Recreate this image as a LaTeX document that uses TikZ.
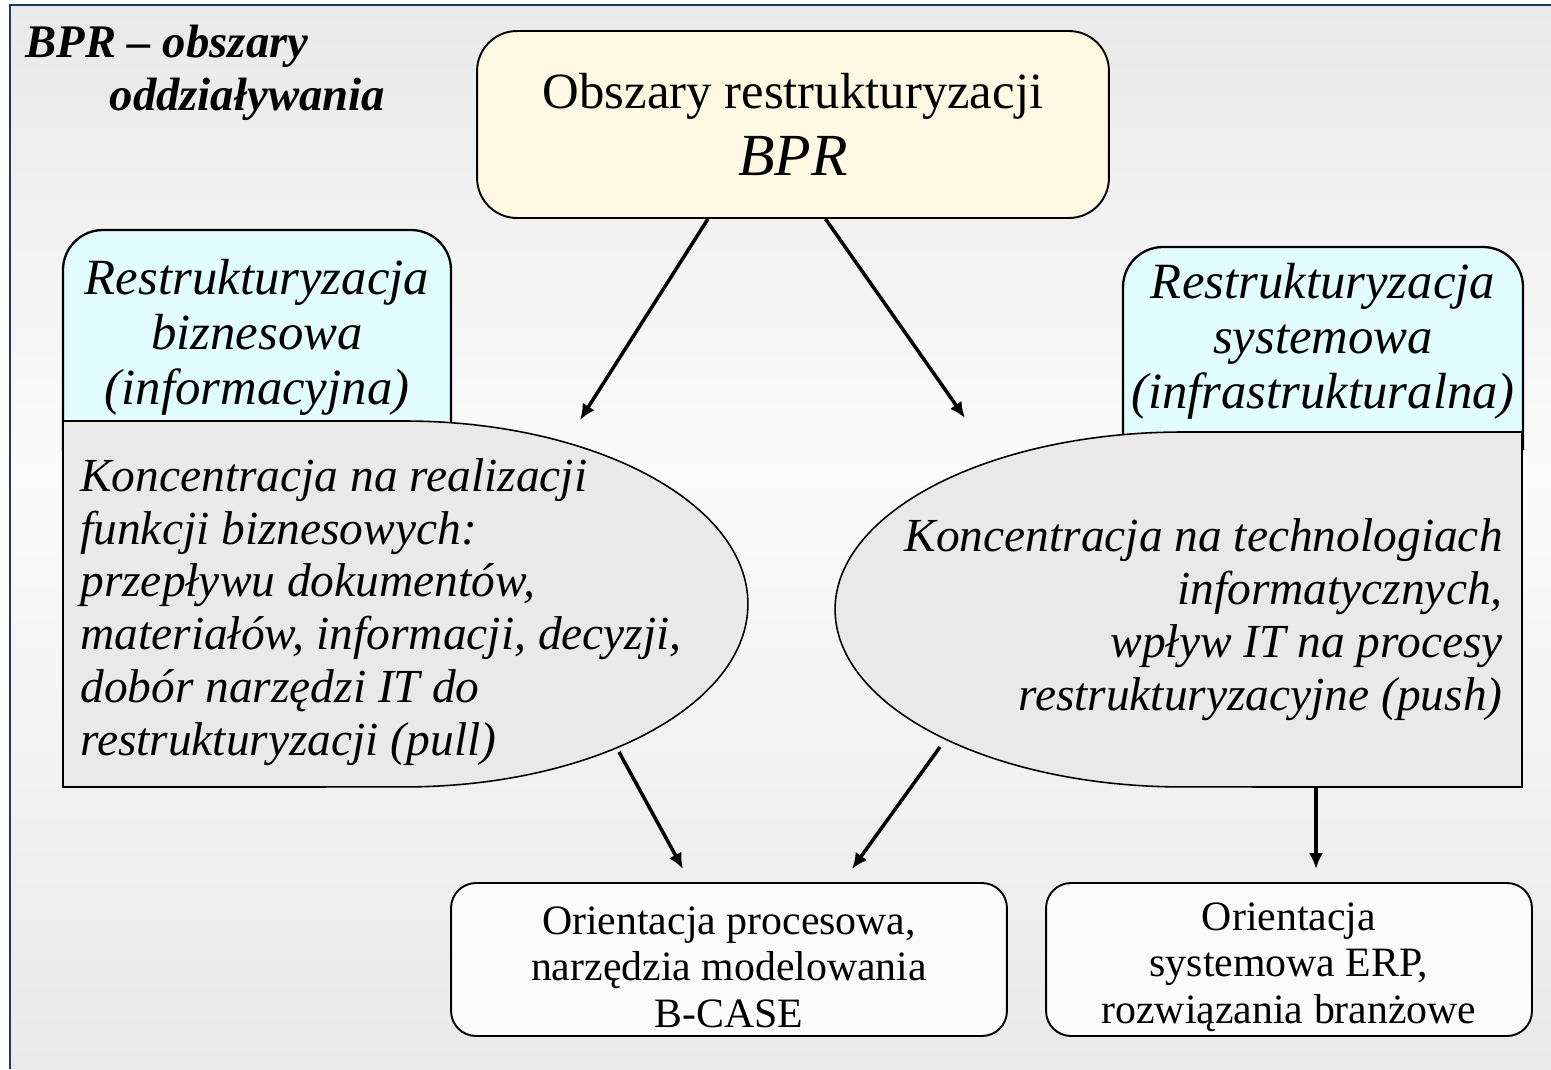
\documentclass[tikz,border=0pt]{standalone}
\usepackage{fontspec}
\setmainfont{Liberation Serif}
\usetikzlibrary{arrows.meta}

\definecolor{ramka}{RGB}{31,56,104}
\definecolor{zolty}{RGB}{255,249,227}
\definecolor{blekit}{RGB}{226,253,255}
\definecolor{szary}{RGB}{233,233,233}
\definecolor{biel}{RGB}{251,251,251}
\definecolor{tlo}{RGB}{233,233,233}
\newcommand\podbij{\rule{0pt}{24.5pt}}

\begin{document}
\begin{tikzpicture}[x=0.02cm,y=-0.02cm,
    strzalka/.style={-{Latex[length=9pt,width=8pt]}, line width=2pt},
    kursywa/.style={inner sep=0pt, font=\fontsize{27}{30}\selectfont\itshape},
    naglowek/.style={inner sep=0pt, align=center, font=\fontsize{28.9}{31.2}\selectfont\itshape},
    dolny/.style={draw, line width=1.1pt, rounded corners=0.5cm, fill=biel,
        minimum height=3.06cm, align=center, inner sep=0pt,
        font=\fontsize{23.8}{26.6}\selectfont}]
    \useasboundingbox (0,0) rectangle (1551,1069);

    % tlo slajdu
    \fill[white] (0,0) rectangle (1551,1069);
    \shade[top color=tlo, bottom color=biel] (10,5) rectangle (1551,470);
    \shade[top color=biel, bottom color=tlo] (10,470) rectangle (1551,1069);
    \draw[ramka, line width=1.7pt] (10,1069) -- (10,5) -- (1551,5);

    % tytul
    \node[anchor=base west, inner sep=0pt, align=left,
        font=\fontsize{26.6}{30}\selectfont\bfseries\itshape] (tytul) at (25,110)
        {BPR – obszary\\\hspace*{48pt}oddziaływania};

    % glowny obszar
    \node[draw, line width=1.1pt, rounded corners=0.8cm, fill=zolty,
        minimum width=12.64cm, minimum height=3.74cm, align=center,
        font=\fontsize{28.9}{38}\selectfont] (bpr) at (793,124.5)
        {Obszary restrukturyzacji\\\fontsize{34}{38}\selectfont\textit{BPR}};

    % zakladki
    \filldraw[fill=blekit, line width=1.3pt, rounded corners=0.8cm]
        (63,450) -- (63,230) -- (451,230) -- (451,450);
    \filldraw[fill=blekit, line width=1.3pt, rounded corners=0.8cm]
        (1123,450) -- (1123,247) -- (1523,247) -- (1523,450);

    % pola szare
    \filldraw[fill=szary, line width=0.9pt] (63,421) -- (404,421)
        arc[start angle=90, end angle=-90, x radius=6.88cm, y radius=3.66cm]
        -- (63,787) -- cycle;
    \filldraw[fill=szary, line width=0.9pt] (1522,432) -- (1183,432)
        arc[start angle=90, end angle=270, x radius=6.96cm, y radius=3.55cm]
        -- (1522,787) -- cycle;

    % teksty
    \node[naglowek, anchor=base] (biznes) at (257,404)
        {Restrukturyzacja\\biznesowa\\(informacyjna)};
    \node[naglowek, anchor=base] (system) at (1323,408)
        {Restrukturyzacja\\systemowa\\(infrastrukturalna)};
    \node[kursywa, anchor=base west, align=left] (pull) at (80,755)
        {Koncentracja na realizacji\\funkcji biznesowych:\\przepływu dokumentów,\\materiałów, informacji, decyzji,\\dobór narzędzi IT do\\restrukturyzacji (pull)};
    \node[kursywa, anchor=base east, align=right] (push) at (1503,710)
        {Koncentracja na technologiach\\informatycznych,\\wpływ IT na procesy\\restrukturyzacyjne (push)};

    % orientacje
    \node[dolny, minimum width=11.12cm] (proces) at (729,959.5)
        {\podbij Orientacja procesowa,\\narzędzia modelowania\\B-CASE};
    \node[dolny, minimum width=9.72cm] (erp) at (1289,959.5)
        {\podbij Orientacja\\systemowa ERP,\\rozwiązania branżowe};

    % strzalki
    \coordinate (k1) at (580,420);
    \coordinate (k2) at (965,418);
    \coordinate (z1) at (619,752);
    \coordinate (z2) at (940,747);
    \coordinate (z3) at (1316,787);
    \coordinate (k3) at (683,869);
    \coordinate (k4) at (852,869);
    \coordinate (k5) at (1316,869);
    \draw[strzalka] (bpr.228) -- (k1);
    \draw[strzalka] (bpr.289) -- (k2);
    \draw[strzalka] (z1) -- (k3);
    \draw[strzalka] (z2) -- (k4);
    \draw[strzalka] (z3) -- (k5);
\end{tikzpicture}
\end{document}
